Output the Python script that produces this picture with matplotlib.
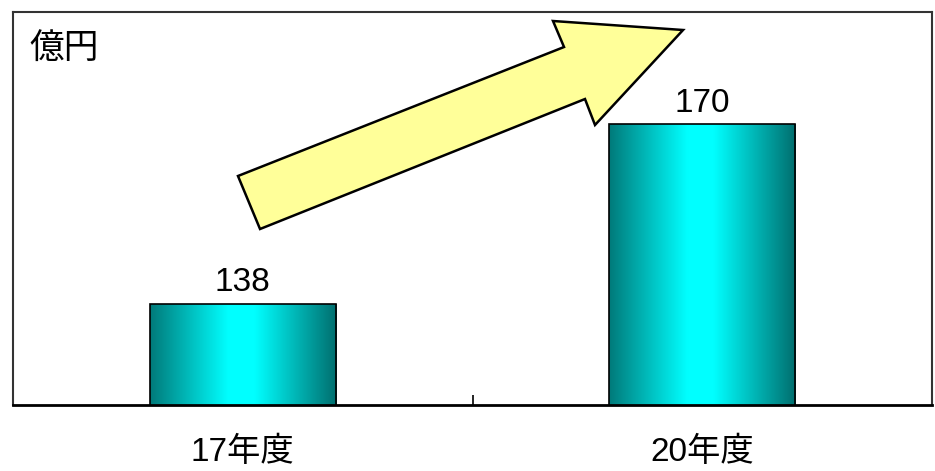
import matplotlib.pyplot as plt
import numpy as np
from matplotlib.colors import LinearSegmentedColormap
from matplotlib.patches import Polygon

plt.rcParams['font.family'] = ['Liberation Sans', 'Noto Sans CJK JP', 'DejaVu Sans']

categories = ['17年度', '20年度']
values = [138, 170]
unit_label = '億円'

fig = plt.figure(figsize=(9.35, 4.71), dpi=100)
ax = fig.add_axes([13 / 935, 1 - 405 / 471, 919 / 935, 393 / 471])

x = np.arange(len(categories))

# teal -> cyan -> teal horizontal gradient for the bars
grad = LinearSegmentedColormap.from_list(
    'teal', [(0.0, '#007a7a'), (0.42, '#00ffff'), (0.56, '#00ffff'), (1.0, '#006e6e')])
gx = np.linspace(0, 1, 256).reshape(1, -1)

bars = ax.bar(x, values, width=0.405, bottom=0, facecolor='none',
              edgecolor='black', linewidth=1.2, zorder=3)
for b, v in zip(bars, values):
    x0 = b.get_x()
    im = ax.imshow(gx, cmap=grad, aspect='auto', zorder=2,
                   extent=[x0, x0 + b.get_width(), 120, v])
    im.set_clip_path(b)
    ax.annotate(str(v), (b.get_x() + b.get_width() / 2, v), xytext=(0, 9),
                textcoords='offset points', ha='center', va='baseline', fontsize=24)

ax.set_xlim(-0.5, len(categories) - 0.5)
ax.set_ylim(120, 190)

for xi, c in zip(x, categories):
    ax.text(xi, -0.12, c, transform=ax.get_xaxis_transform(), ha='center',
            va='center', fontsize=24)

ax.text(0.0175, 0.906, unit_label, transform=ax.transAxes, ha='left',
        va='center', fontsize=25)

# upward arrow between the two bars
arrow = [(0.2448, 0.5827), (0.5996, 0.9109), (0.5876, 0.9771), (0.7291, 0.9542),
         (0.6333, 0.7125), (0.6224, 0.7786), (0.2688, 0.4478)]
ax.add_patch(Polygon(arrow, closed=True, transform=ax.transAxes,
                     facecolor='#ffff99', edgecolor='black', linewidth=1.8, zorder=4))

ax.set_yticks([])
ax.set_xticks([])
ax.set_xticks([0.5], minor=True)
ax.tick_params(axis='x', which='minor', direction='in', length=7, width=1.2, labelbottom=False)
for s in ['left', 'top', 'right']:
    ax.spines[s].set_color('#333333')
    ax.spines[s].set_linewidth(1.5)
ax.spines['bottom'].set_linewidth(2)

fig.savefig('out.png', dpi=100)
